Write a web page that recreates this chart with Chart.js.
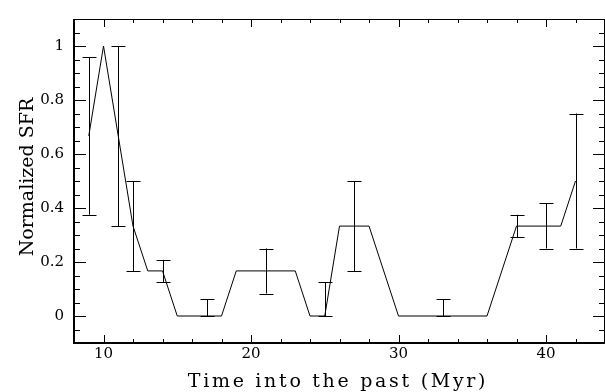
<!DOCTYPE html>
<html>
<head>
<meta charset="utf-8">
<script src="https://cdn.jsdelivr.net/npm/chart.js@4.4.1/dist/chart.umd.min.js"></script>
<style>
  html, body { margin: 0; padding: 0; background: #fff; }
  #wrap { width: 605px; height: 392px; }
</style>
</head>
<body>
<div id="wrap"><canvas id="sfr"></canvas></div>
<script>
// SFR history (line)
const timeMyr = [9, 10, 12, 13, 14, 15, 18, 19, 23, 24, 25, 26, 28, 30, 36, 38, 41, 42];
const sfr = [0.667, 1, 0.333, 0.167, 0.167, 0, 0, 0.167, 0.167, 0, 0, 0.333, 0.333, 0, 0, 0.333, 0.333, 0.5];

// error bars
const errTime = [9, 11, 12, 14, 17, 21, 25, 27, 33, 38, 40, 42];
const errLow = [0.375, 0.333, 0.167, 0.125, 0, 0.083, 0, 0.167, 0, 0.292, 0.25, 0.25];
const errHigh = [0.958, 1, 0.5, 0.208, 0.0625, 0.25, 0.125, 0.5, 0.0625, 0.375, 0.417, 0.75];

const xTickValues = [10, 20, 30, 40];
const yTickValues = [0, 0.2, 0.4, 0.6, 0.8, 1];
const yTickLabels = ["0", "0.2", "0.4", "0.6", "0.8", "1"];

const xTitle = "Time into the past (Myr)";
const yTitle = "Normalized SFR";

const FONT = "'DejaVu Serif', serif";

// error bars, frame with inward ticks, axis titles
const frame = {
  id: "frame",
  afterDatasetsDraw(chart) {
    const { ctx, scales: { x, y } } = chart;
    ctx.save();
    ctx.strokeStyle = "#000";
    ctx.lineWidth = 1;
    ctx.beginPath();
    errTime.forEach((t, i) => {
      const px = Math.round(x.getPixelForValue(t)) + 0.5;
      const lo = y.getPixelForValue(errLow[i]);
      const hi = y.getPixelForValue(errHigh[i]);
      ctx.moveTo(px, lo); ctx.lineTo(px, hi);
      ctx.moveTo(px - 7, Math.round(lo) + 0.5); ctx.lineTo(px + 7, Math.round(lo) + 0.5);
      ctx.moveTo(px - 7, Math.round(hi) + 0.5); ctx.lineTo(px + 7, Math.round(hi) + 0.5);
    });
    ctx.stroke();
    ctx.restore();
  },
  afterDraw(chart) {
    const { ctx, chartArea: a, scales: { x, y } } = chart;
    ctx.save();
    ctx.strokeStyle = "#000";

    // frame
    ctx.lineWidth = 1;
    ctx.beginPath();
    ctx.moveTo(a.left, a.top + 0.5); ctx.lineTo(a.right, a.top + 0.5);
    ctx.moveTo(a.right - 0.5, a.top); ctx.lineTo(a.right - 0.5, a.bottom);
    ctx.stroke();
    ctx.lineWidth = 2;
    ctx.beginPath();
    ctx.moveTo(a.left, a.top); ctx.lineTo(a.left, a.bottom);
    ctx.lineTo(a.right, a.bottom);
    ctx.stroke();

    // ticks
    ctx.lineWidth = 1;
    ctx.beginPath();
    for (let v = 8; v <= 44; v += 2) {
      const px = Math.round(x.getPixelForValue(v)) + 0.5;
      const len = v % 10 === 0 ? 8 : 4;
      ctx.moveTo(px, a.bottom); ctx.lineTo(px, a.bottom - len);
      ctx.moveTo(px, a.top); ctx.lineTo(px, a.top + len);
    }
    for (let k = -2; k <= 22; k++) {
      const py = Math.round(y.getPixelForValue(k * 0.05)) + 0.5;
      const len = k % 4 === 0 ? 12 : 6;
      ctx.moveTo(a.left, py); ctx.lineTo(a.left + len, py);
      ctx.moveTo(a.right, py); ctx.lineTo(a.right - len, py);
    }
    ctx.stroke();

    // titles
    ctx.fillStyle = "#000";
    ctx.font = "19px " + FONT;
    ctx.textAlign = "center";
    ctx.textBaseline = "alphabetic";
    ctx.letterSpacing = "2.7px";
    ctx.fillText(xTitle, 338, 387);
    ctx.letterSpacing = "0px";
    ctx.translate(33, 177);
    ctx.rotate(-Math.PI / 2);
    ctx.fillText(yTitle, 0, 0);
    ctx.restore();
  }
};

new Chart(document.getElementById("sfr"), {
  type: "line",
  data: {
    datasets: [
      {
        data: timeMyr.map((t, i) => ({ x: t, y: sfr[i] })),
        borderColor: "#000",
        borderWidth: 1,
        pointRadius: 0,
        tension: 0,
        fill: false,
      },
    ],
  },
  options: {
    responsive: true,
    maintainAspectRatio: false,
    animation: false,
    events: [],
    layout: { padding: { top: 7, left: 0, right: 0, bottom: 0 } },
    plugins: { legend: { display: false }, tooltip: { enabled: false } },
    scales: {
      x: {
        type: "linear",
        min: 8,
        max: 44,
        grid: { display: false, drawTicks: false },
        border: { display: false },
        afterBuildTicks: (s) => { s.ticks = xTickValues.map((v) => ({ value: v })); },
        afterFit: (s) => { s.height = 49; },
        ticks: {
          color: "#000",
          font: { family: FONT, size: 15 },
          padding: 2,
          maxRotation: 0,
          callback: (v) => String(v),
        },
      },
      y: {
        min: -0.1,
        max: 1.1,
        grid: { display: false, drawTicks: false },
        border: { display: false },
        afterBuildTicks: (s) => { s.ticks = yTickValues.map((v) => ({ value: v })); },
        afterFit: (s) => { s.width = 74; },
        ticks: {
          color: "#000",
          font: { family: FONT, size: 15 },
          padding: 10,
          callback: (v) => yTickLabels[yTickValues.indexOf(v)],
        },
      },
    },
  },
  plugins: [frame],
});
</script>
</body>
</html>
